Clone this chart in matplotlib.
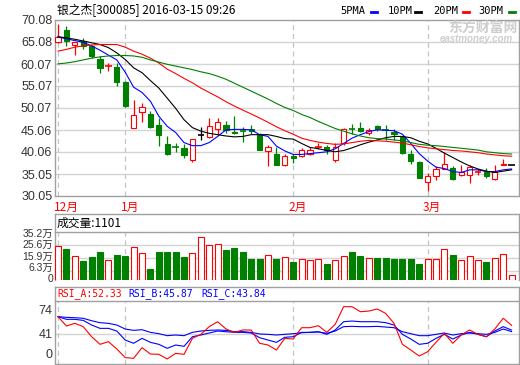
# 银之杰 日K线 + 成交量 + RSI
import numpy as np
import matplotlib.pyplot as plt
from matplotlib.lines import Line2D

plt.rcParams['font.family'] = ['Liberation Sans', 'Noto Sans CJK SC']

W, H = 520, 365  # taille de l'image en pixels

# --- données ---
opens = [65.0, 67.8, 64.4, 65.4, 64.2, 61.1, 59.6, 59.4, 56.0, 45.6,
         49.2, 48.6, 46.3, 41.9, 41.3, 40.9, 38.2, 44.0, 43.5, 45.3,
         46.1, 44.6, 45.0, 45.4, 44.0, 40.3, 39.6, 37.1, 39.2, 39.1,
         39.5, 41.0, 41.1, 38.2, 42.1, 45.4, 45.6, 44.4, 45.9, 45.1,
         44.5, 43.4, 39.6, 37.8, 33.2, 34.5, 36.2, 36.4, 34.8, 34.8,
         35.4, 35.6, 34.0, 37.1, 37.0]
closes = [66.3, 65.3, 65.0, 64.2, 61.8, 59.2, 59.7, 56.0, 50.5, 48.4,
          50.4, 45.8, 44.0, 39.6, 41.2, 39.3, 43.0, 44.0, 46.0, 46.9,
          45.0, 44.4, 44.9, 44.9, 40.6, 41.1, 37.1, 39.2, 38.7, 40.6,
          40.6, 41.1, 40.4, 41.2, 45.2, 45.3, 44.8, 45.0, 45.4, 45.0,
          44.2, 39.8, 38.1, 34.2, 34.6, 36.2, 37.3, 34.0, 35.6, 36.6,
          35.5, 34.5, 35.5, 37.4, 37.0]
highs = [69.2, 68.7, 65.1, 66.0, 64.5, 62.0, 60.4, 60.3, 56.1, 51.9,
         51.1, 49.4, 47.8, 43.8, 42.2, 41.8, 43.1, 45.8, 47.9, 47.9,
         47.2, 48.3, 45.7, 46.1, 44.3, 41.7, 41.1, 39.5, 39.5, 40.9,
         41.1, 42.1, 41.7, 42.1, 45.5, 46.4, 46.8, 45.5, 46.3, 46.3,
         45.2, 43.8, 40.6, 37.9, 35.3, 36.9, 40.0, 36.9, 37.0, 37.2,
         36.3, 36.4, 37.1, 38.5, 37.0]
lows = [64.9, 64.2, 62.1, 63.5, 61.5, 58.1, 58.5, 55.1, 50.3, 45.5,
        46.9, 45.5, 41.4, 39.4, 40.0, 38.7, 37.7, 42.7, 43.3, 44.2,
        44.4, 44.1, 42.4, 44.1, 40.4, 36.9, 37.0, 36.9, 37.5, 38.9,
        39.3, 40.8, 39.5, 37.7, 41.7, 44.1, 44.5, 43.9, 44.8, 42.7,
        42.9, 39.6, 37.3, 34.1, 31.2, 33.8, 36.1, 33.8, 34.6, 32.9,
        34.9, 34.2, 33.6, 37.0, 37.0]

ma5 = [66.2, 65.8, 65.4, 65.0, 64.2, 63.2, 62.1, 61.0, 58.2, 54.8,
       53.6, 51.6, 48.2, 45.9, 44.5, 42.2, 41.5, 41.5, 42.2, 43.6,
       45.1, 45.2, 45.2, 45.1, 44.0, 43.6, 41.4, 40.3, 39.5, 39.5,
       39.7, 39.9, 40.1, 40.8, 42.0, 43.2, 44.0, 44.7, 45.1, 45.0,
       44.9, 44.1, 42.0, 39.7, 38.0, 36.6, 36.3, 35.6, 35.4, 36.0,
       36.0, 35.6, 35.6, 36.0, 36.2]
ma10 = [66.3, 66.0, 65.7, 65.3, 64.9, 64.5, 63.8, 62.6, 61.1, 59.2,
        58.1, 56.3, 54.6, 52.3, 50.0, 47.4, 45.6, 44.8, 44.3, 44.0,
        43.7, 43.5, 43.6, 44.0, 44.0, 44.0, 43.6, 43.1, 43.0, 42.0,
        41.1, 40.8, 40.4, 40.1, 40.4, 41.0, 41.7, 42.3, 42.8, 43.3,
        43.6, 43.6, 43.3, 42.5, 41.9, 40.9, 39.8, 38.8, 37.8, 36.9,
        36.2, 35.7, 35.4, 35.7, 36.0]
ma20 = [63.0, 63.4, 63.9, 64.2, 64.4, 64.5, 64.5, 64.5, 63.9, 63.0,
        62.3, 61.4, 60.3, 58.9, 57.9, 56.8, 55.8, 54.6, 53.6, 52.6,
        51.5, 50.5, 49.6, 48.7, 47.8, 46.8, 45.8, 44.9, 44.1, 43.2,
        42.7, 42.3, 42.0, 41.8, 41.9, 42.2, 42.5, 42.7, 42.6, 42.5,
        42.3, 42.1, 41.7, 41.3, 41.0, 40.8, 40.6, 40.4, 40.3, 40.1,
        39.9, 39.6, 39.4, 39.2, 39.1]
ma30 = [60.1, 60.3, 60.6, 61.0, 61.4, 61.7, 61.9, 62.0, 62.0, 61.9,
        61.6, 61.0, 60.5, 60.0, 59.6, 59.2, 58.8, 58.3, 57.9, 57.3,
        56.6, 55.7, 54.8, 53.9, 53.0, 52.1, 51.1, 50.2, 49.5, 48.6,
        47.9, 47.0, 46.2, 45.4, 44.8, 44.2, 43.7, 43.3, 43.1, 43.0,
        42.8, 42.6, 42.2, 41.8, 41.6, 41.5, 41.3, 41.1, 40.9, 40.7,
        40.5, 40.1, 39.9, 39.7, 39.6]

volume = [25.0, 23.1, 17.7, 14.1, 17.0, 20.6, 14.8, 18.7, 17.7, 24.3,
          19.9, 7.8, 20.6, 20.6, 20.6, 17.0, 19.9, 31.6, 25.5, 26.5,
          22.1, 23.6, 20.2, 15.1, 15.5, 18.2, 15.1, 16.8, 12.9, 15.3,
          14.8, 15.3, 12.1, 14.8, 17.7, 20.6, 17.7, 16.3, 16.3, 16.3,
          15.5, 15.5, 15.1, 11.9, 15.5, 15.5, 22.6, 18.7, 14.8, 17.7,
          14.8, 13.4, 16.3, 19.2, 3.6]  # en 万

rsi_a = [64.0, 51.4, 55.0, 50.5, 36.9, 26.6, 30.2, 20.3, 8.6, 7.7,
         22.1, 13.5, 13.1, 6.8, 14.4, 13.1, 34.7, 40.1, 50.5, 57.2,
         47.3, 42.8, 46.0, 46.0, 28.0, 25.7, 18.9, 34.7, 33.8, 49.1,
         49.1, 51.8, 42.8, 53.7, 77.5, 77.5, 70.7, 71.6, 74.4, 68.5,
         55.0, 26.6, 18.9, 10.8, 16.6, 29.3, 41.5, 28.0, 39.2, 46.0,
         40.1, 36.9, 47.3, 61.8, 52.33]
rsi_b = [64.0, 60.4, 60.4, 59.0, 52.7, 48.2, 48.2, 44.6, 32.4, 28.0,
         34.7, 29.3, 26.6, 21.2, 25.7, 23.9, 36.9, 39.2, 41.9, 44.6,
         43.7, 42.8, 42.8, 41.9, 35.6, 32.4, 29.3, 36.1, 36.9, 42.8,
         42.8, 43.7, 40.1, 46.0, 57.2, 58.1, 57.2, 57.2, 57.2, 55.9,
         52.7, 40.1, 33.8, 26.6, 28.0, 34.7, 40.1, 33.8, 39.2, 42.8,
         40.1, 36.9, 44.6, 50.5, 45.87]
rsi_c = [64.0, 63.1, 62.6, 61.8, 58.5, 55.9, 55.0, 52.7, 47.3, 45.5,
         46.4, 42.8, 41.0, 38.3, 39.2, 38.3, 42.8, 44.6, 45.5, 46.0,
         45.5, 43.7, 43.7, 42.8, 40.6, 40.1, 39.2, 40.1, 41.0, 42.3,
         42.8, 43.3, 41.5, 44.6, 50.5, 50.9, 50.5, 50.5, 50.9, 50.0,
         49.1, 43.7, 41.0, 38.3, 38.3, 40.1, 41.9, 39.2, 41.0, 41.9,
         41.0, 40.1, 42.8, 47.3, 43.84]

price_ticks = [30.05, 35.05, 40.06, 45.06, 50.07, 55.07, 60.07, 65.08, 70.08]
vol_ticks = [0, 6.3, 15.9, 25.6, 35.2]
vol_labels = ['0', '6.3万', '15.9万', '25.6万', '35.2万']
rsi_ticks = [41, 74]
month_pos = [0, 8, 28, 44]
month_names = ['12月', '1月', '2月', '3月']

RED = '#FF0000'
GREEN = '#008000'
BLUE = '#0000FF'
GRID = '#D4D4D4'
BORD = '#A0A0A0'
TXT = '#333333'


def box(top, bottom, left=55, right=519):
    return [left / W, 1 - bottom / H, (right - left) / W, (bottom - top) / H]


def fx(px):
    return px / W


def fy(py):
    return 1 - py / H


def style(a):
    for s in a.spines.values():
        s.set_color(BORD)
        s.set_linewidth(1.0)
    a.tick_params(length=0, pad=2, labelsize=9, labelcolor=TXT)
    a.set_xticks([])


fig = plt.figure(figsize=(W / 100, H / 100), dpi=100)
ax = fig.add_axes(box(20, 196))
axvt = fig.add_axes(box(214, 232))
axv = fig.add_axes(box(232, 280))
axrt = fig.add_axes(box(287, 301))
axr = fig.add_axes(box(301, 364))

x = np.arange(len(opens))
o = np.array(opens)
c = np.array(closes)
col = np.where(c > o, RED, np.where(c < o, GREEN, 'black'))
vcol = np.where(c >= o, RED, GREEN)
xl = (-0.36, 54.88)

# --- K线 ---
style(ax)
ax.set_xlim(*xl)
ax.set_ylim(30.05, 70.08)
ax.set_yticks(price_ticks)
ax.set_yticklabels(['%.2f' % v for v in price_ticks])
for v in price_ticks[1:-1]:
    ax.axhline(v, color=GRID, lw=1, zorder=0)
for m in month_pos:
    ax.axvline(m, color='#C4C4C4', lw=0.9, ls=(0, (4, 3)), zorder=0)
ax.vlines(x, lows, highs, colors=col, lw=0.9, zorder=2)
body = np.abs(c - o)
big = body >= 0.2
face = np.where(c > o, 'white', col)
ax.bar(x[big], body[big], bottom=np.minimum(o, c)[big], width=0.62,
       color=face[big], edgecolor=col[big], lw=0.8, zorder=3)
small = ~big
ax.hlines(c[small], x[small] - 0.38, x[small] + 0.38, colors=col[small],
          lw=1.2, zorder=3)
ax.plot(x, ma5, color=BLUE, lw=0.8, zorder=4)
ax.plot(x, ma10, color='black', lw=0.8, zorder=4)
ax.plot(x, ma20, color=RED, lw=0.8, zorder=4)
ax.plot(x, ma30, color=GREEN, lw=0.8, zorder=4)

# --- 成交量 ---
style(axvt)
axvt.set_yticks([])
axvt.spines['bottom'].set_visible(False)
axvt.text(2 / 464, 0.5, '成交量:1101', transform=axvt.transAxes, va='center',
          ha='left', fontsize=8.5, color='black', family=['Noto Sans CJK SC'])

style(axv)
axv.spines['bottom'].set_visible(False)
axv.set_xlim(*xl)
axv.set_ylim(0, 35.2)
axv.set_yticks([])
# étiquettes posées à la main, un peu resserrées comme sur l'original
for py, t in zip([279.5, 268, 256.5, 245, 233.5], vol_labels):
    fig.text(fx(53), fy(py), t, ha='right', va='center', fontsize=7.5,
             color=TXT)
for v in vol_ticks[1:-1]:
    axv.axhline(v, color=GRID, lw=1, zorder=0)
for m in month_pos:
    axv.axvline(m, color='#C4C4C4', lw=0.9, ls=(0, (4, 3)), zorder=0)
vface = np.where(c >= o, 'white', GREEN)
axv.bar(x, volume, width=0.7, color=vface, edgecolor=vcol, lw=0.8, zorder=3)

# --- RSI ---
style(axrt)
axrt.set_yticks([])
axrt.spines['bottom'].set_visible(False)
for xp, t, cc in [(57, 'RSI_A:52.33', RED), (128, 'RSI_B:45.87', BLUE),
                  (201, 'RSI_C:43.84', BLUE)]:
    fig.text(fx(xp), fy(294), t, color=cc, fontsize=7, ha='left',
             va='center', family='DejaVu Sans Mono')

style(axr)
axr.set_xlim(*xl)
axr.set_ylim(0, 85.2)
axr.set_yticks(rsi_ticks)
axr.axhline(41, color=GRID, lw=1, zorder=0)
for m in month_pos:
    axr.axvline(m, color='#C4C4C4', lw=0.9, ls=(0, (4, 3)), zorder=0)
fig.text(fx(53), fy(355), '0', ha='right', va='center', fontsize=9, color=TXT)
axr.plot(x, rsi_c, color=BLUE, lw=0.8)
axr.plot(x, rsi_b, color=BLUE, lw=0.8)
axr.plot(x, rsi_a, color=RED, lw=0.8)

# --- textes du haut ---
fig.text(fx(57), fy(10), '银之杰[300085] 2016-03-15 09:26', fontsize=8.5,
         ha='left', va='center', color='black', family=['Noto Sans CJK SC'])
for xp, t, cc, x1 in [(340, '5PMA', BLUE, 371), (388, '10PM', 'black', 415),
                      (433, '20PM', RED, 463), (478, '30PM', GREEN, 509)]:
    fig.text(fx(xp), fy(11), t, fontsize=7.5, ha='left', va='center',
             color='black', family='DejaVu Sans Mono')
    fig.add_artist(Line2D([fx(x1), fx(x1 + 6)], [fy(12), fy(12)], color=cc,
                          lw=2, transform=fig.transFigure))

for m, nm in zip(month_pos, month_names):
    xp = 58 + 8.4 * m - 4.5
    fig.text(fx(xp), fy(207), nm, color=RED, fontsize=8.5, ha='left',
             va='center', family=['Noto Sans CJK SC'])

# filigrane
fig.text(fx(483), fy(28), '东方财富网', color='#CDCDCD', fontsize=10,
         fontweight='bold', ha='center', va='center', family=['Noto Sans CJK SC'])
fig.text(fx(476), fy(39.5), 'eastmoney.com', color='#CDCDCD', fontsize=7,
         fontweight='bold', style='italic', ha='center', va='center')

plt.savefig('out.png', dpi=100)
